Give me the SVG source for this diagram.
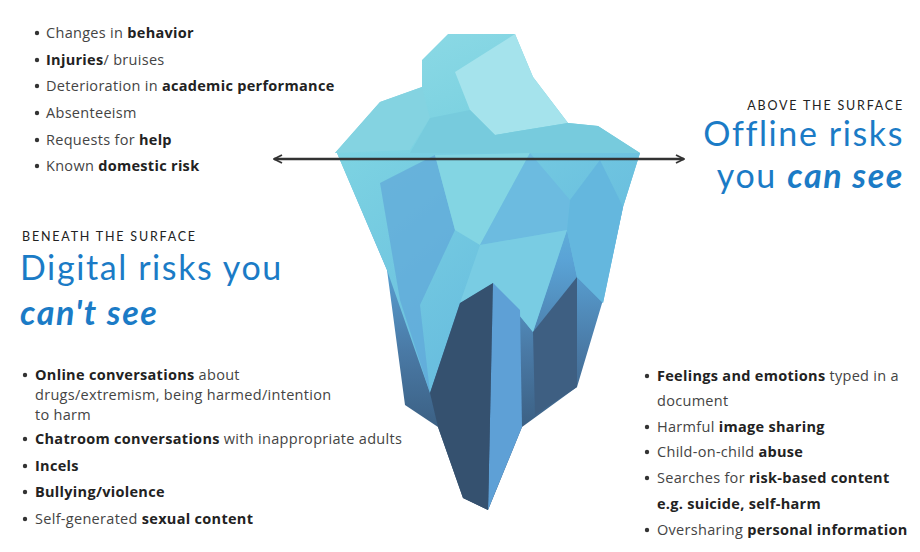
<svg xmlns="http://www.w3.org/2000/svg" width="920" height="552" viewBox="0 0 920 552">
<style>
.b{font-family:"Open Sans","Liberation Sans",sans-serif;font-size:14.5px;fill:#444;letter-spacing:0.3px}
.b tspan.k{font-weight:bold;fill:#222}
.cap{font-family:"Lato","Liberation Sans",sans-serif;font-size:12.5px;fill:#222;letter-spacing:1.8px}
.h{font-family:"Lato","Open Sans",sans-serif;font-size:34px;fill:#1b7bc6;letter-spacing:1.6px}
.hb{font-weight:bold;font-style:italic}
.dot{fill:#333}
</style>
<defs>
<linearGradient id="top" x1="0" y1="0" x2="1" y2="1"><stop offset="0" stop-color="#8fdbe6"/><stop offset="1" stop-color="#6fcbdd"/></linearGradient>
<linearGradient id="sub" x1="0" y1="0" x2="0" y2="1"><stop offset="0" stop-color="#6cc6df"/><stop offset="0.3" stop-color="#5aa3d6"/><stop offset="0.55" stop-color="#4a7aa6"/><stop offset="1" stop-color="#2c4560"/></linearGradient>
<linearGradient id="lt" x1="0" y1="0" x2="1" y2="1"><stop offset="0" stop-color="#7dd3e2"/><stop offset="1" stop-color="#5db2dd"/></linearGradient>
<marker id="ah" viewBox="0 0 10 10" refX="9" refY="5" markerWidth="10" markerHeight="10" orient="auto-start-reverse" markerUnits="userSpaceOnUse"><path d="M1,1 L9,5 L1,9" fill="none" stroke="#333" stroke-width="1.8"/></marker>
</defs>
<rect width="920" height="552" fill="#fff"/>
<g id="iceberg">
<polygon points="335,153 380,102 422,87 422,60 448,34 515,34 533,77 568,123 598,126 640,153" fill="url(#top)"/>
<polygon points="380,102 422,87 430,118 410,150 335,153" fill="#84d3e1"/>
<polygon points="455,72 515,34 533,77 568,123 495,135 470,110" fill="#a5e3ec"/>
<polygon points="430,118 470,110 495,135 568,123 598,126 640,153 410,153" fill="#77cbdd"/>
<polygon points="337,153 640,153 623,207 603,300 577,387 522,427 488,510 463,498 438,427 405,405 387,270" fill="url(#sub)"/>
<polygon points="337,153 640,153 623,207 603,303 577,277 567,230 533,332 493,283 460,303 430,393 387,270" fill="url(#lt)"/>
<polygon points="380,183 435,155 455,230 420,305 430,393 400,300" fill="#5fa7d8" opacity="0.7"/>
<polygon points="435,155 530,153 480,245 455,230" fill="#83d5e3"/>
<polygon points="530,153 570,200 567,230 480,245" fill="#6cbbe0"/>
<polygon points="480,245 567,230 533,332 493,283 460,303" fill="#79cce3"/>
<polygon points="570,200 600,160 623,207 603,303 577,277 567,230" fill="#64b7de"/>
<polygon points="493,283 520,310 522,427 488,510" fill="#5ea0d6"/>
<polygon points="533,332 577,277 577,387 535,415" fill="#3e5f82"/>
<polygon points="460,303 493,283 488,510 463,498 438,427 430,393" fill="#35516f"/>
</g>
<g id="connectors">
<line x1="274" y1="159" x2="684" y2="159" stroke="#333" stroke-width="2.5" marker-start="url(#ah)" marker-end="url(#ah)"/>
</g>
<g id="visible-list">
<circle class="dot" cx="37" cy="33" r="2.2"/><text class="b" x="46" y="38">Changes in <tspan class="k">behavior</tspan></text>
<circle class="dot" cx="37" cy="60" r="2.2"/><text class="b" x="46" y="65"><tspan class="k">Injuries</tspan>/ bruises</text>
<circle class="dot" cx="37" cy="86" r="2.2"/><text class="b" x="46" y="91">Deterioration in <tspan class="k">academic performance</tspan></text>
<circle class="dot" cx="37" cy="113" r="2.2"/><text class="b" x="46" y="118">Absenteeism</text>
<circle class="dot" cx="37" cy="140" r="2.2"/><text class="b" x="46" y="145">Requests for <tspan class="k">help</tspan></text>
<circle class="dot" cx="37" cy="166" r="2.2"/><text class="b" x="46" y="171">Known <tspan class="k">domestic risk</tspan></text>
</g>
<g id="above-heading">
<text class="cap" x="904" y="110" text-anchor="end">ABOVE THE SURFACE</text>
<text class="h" x="904" y="146" text-anchor="end">Offline risks</text>
<text class="h" x="904" y="188" text-anchor="end">you <tspan class="hb">can see</tspan></text>
</g>
<g id="beneath-heading">
<text class="cap" x="22" y="241">BENEATH THE SURFACE</text>
<text class="h" x="20" y="280">Digital risks you</text>
<text class="h hb" x="20" y="325">can't see</text>
</g>
<g id="digital-list">
<circle class="dot" cx="25" cy="375" r="2.2"/><text class="b" x="35" y="380"><tspan class="k">Online conversations</tspan> about</text>
<text class="b" x="35" y="400">drugs/extremism, being harmed/intention</text>
<text class="b" x="35" y="420">to harm</text>
<circle class="dot" cx="25" cy="439" r="2.2"/><text class="b" x="35" y="444"><tspan class="k">Chatroom conversations</tspan> with inappropriate adults</text>
<circle class="dot" cx="25" cy="466" r="2.2"/><text class="b" x="35" y="471"><tspan class="k">Incels</tspan></text>
<circle class="dot" cx="25" cy="492" r="2.2"/><text class="b" x="35" y="497"><tspan class="k">Bullying/violence</tspan></text>
<circle class="dot" cx="25" cy="519" r="2.2"/><text class="b" x="35" y="524">Self-generated  <tspan class="k">sexual content</tspan></text>
</g>
<g id="offline-list">
<circle class="dot" cx="647" cy="376" r="2.2"/><text class="b" x="657" y="381"><tspan class="k">Feelings and emotions</tspan> typed in a</text>
<text class="b" x="657" y="406">document</text>
<circle class="dot" cx="647" cy="427" r="2.2"/><text class="b" x="657" y="432">Harmful <tspan class="k">image sharing</tspan></text>
<circle class="dot" cx="647" cy="452" r="2.2"/><text class="b" x="657" y="457">Child-on-child <tspan class="k">abuse</tspan></text>
<circle class="dot" cx="647" cy="478" r="2.2"/><text class="b" x="657" y="483">Searches for <tspan class="k">risk-based content</tspan></text>
<text class="b" x="657" y="509"><tspan class="k">e.g. suicide, self-harm</tspan></text>
<circle class="dot" cx="647" cy="530" r="2.2"/><text class="b" x="657" y="535">Oversharing <tspan class="k">personal information</tspan></text>
</g>
</svg>
